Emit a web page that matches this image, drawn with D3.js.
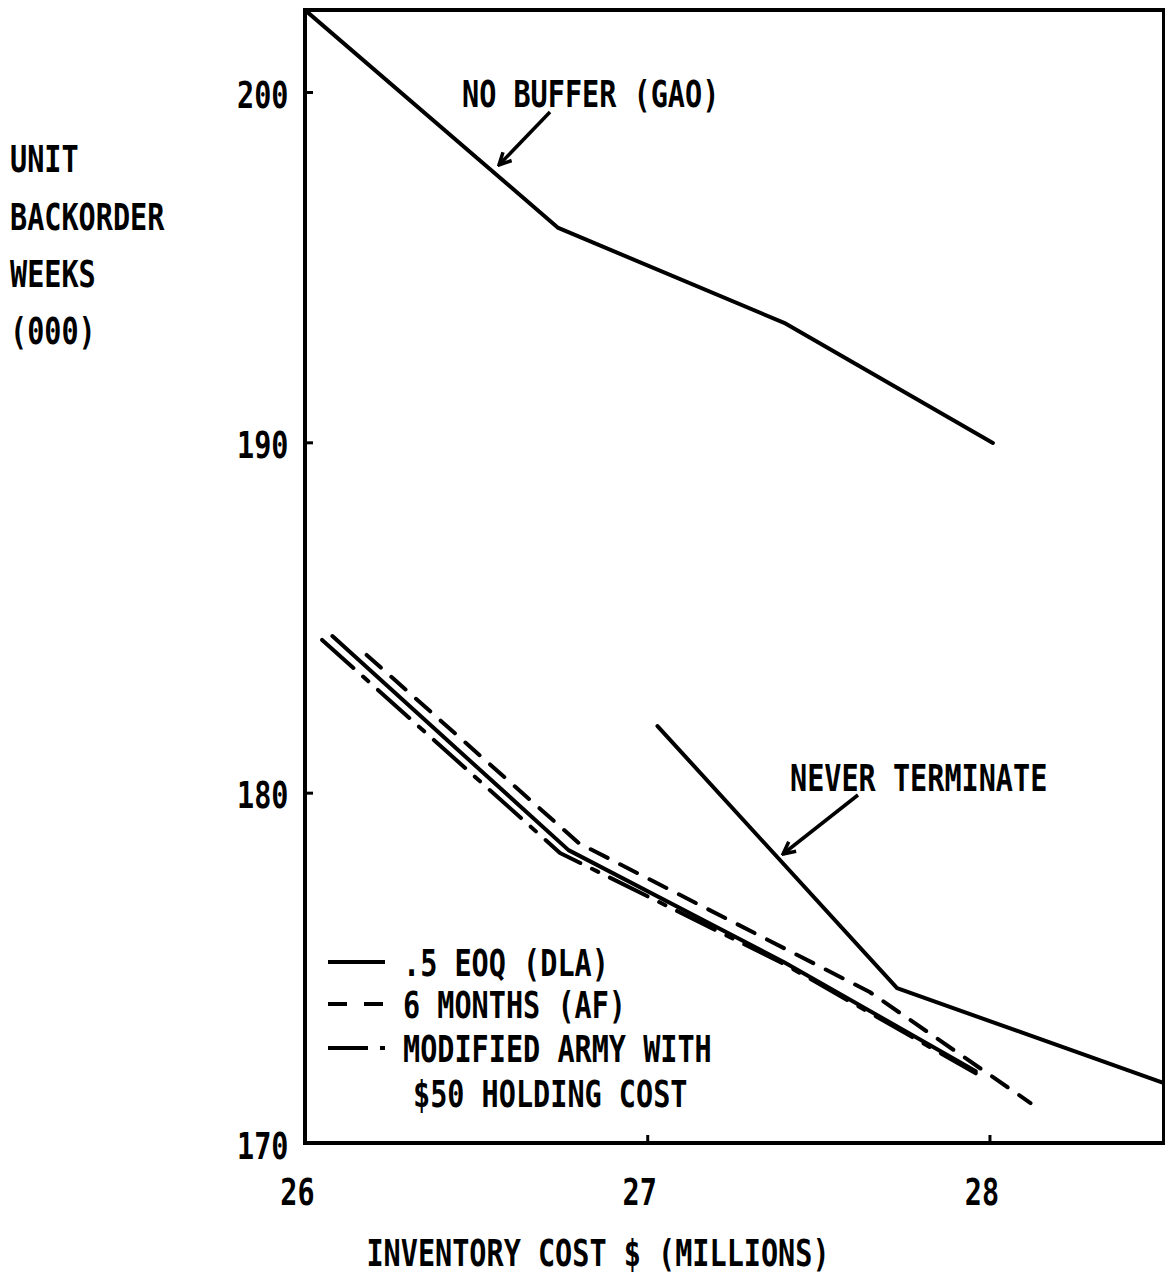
<!DOCTYPE html>
<html>
<head>
<meta charset="utf-8">
<script src="https://cdn.jsdelivr.net/npm/d3@7"></script>
<style>
  body { margin: 0; background: #fff; }
  text { font-family: "DejaVu Sans Mono", monospace; font-weight: bold; font-size: 38px; fill: #000; }
</style>
</head>
<body>
<div id="chart"></div>
<script>
// Tick values
const xTicks = [26, 27, 28];
const yTicks = [170, 180, 190, 200];

// Series (inventory cost $M, backorder weeks 000)
const noBufferX = [26.0, 26.74, 27.40, 28.01];
const noBufferY = [202.34, 196.12, 193.41, 189.98];

const neverTermX = [27.03, 27.73, 28.51];
const neverTermY = [181.90, 174.42, 171.71];

const eoqX = [26.08, 26.77, 27.40, 27.96];
const eoqY = [184.47, 178.36, 175.16, 172.05];

const sixMonthsX = [26.18, 26.80, 27.65, 28.12];
const sixMonthsY = [183.93, 178.56, 174.31, 171.14];

const armyX = [26.05, 26.745, 27.40, 27.96];
const armyY = [184.36, 178.28, 175.11, 171.99];

const legendLabels = [".5 EOQ (DLA)", "6 MONTHS (AF)", "MODIFIED ARMY WITH", "$50 HOLDING COST"];
const yTitle = ["UNIT", "BACKORDER", "WEEKS", "(000)"];
const xTitle = "INVENTORY COST $ (MILLIONS)";

const W = 1165, H = 1280;
const plotL = 305, plotR = 1164, plotT = 10, plotB = 1143;
const SQ = 0.75; // horizontal squeeze for the narrow lettering

const x = d3.scaleLinear().domain([26, 28.51]).range([plotL, plotR]);
const y = d3.scaleLinear().domain([170, 202.34]).range([plotB, plotT]);

const svg = d3.select("#chart").append("svg")
  .attr("width", W)
  .attr("height", H);

const defs = svg.append("defs");
defs.append("clipPath").attr("id", "plotclip")
  .append("rect")
  .attr("x", plotL).attr("y", plotT)
  .attr("width", plotR - plotL).attr("height", plotB - plotT);

defs.append("marker")
  .attr("id", "arrow")
  .attr("markerUnits", "userSpaceOnUse")
  .attr("viewBox", "-14 -8 16 16")
  .attr("markerWidth", 16).attr("markerHeight", 16)
  .attr("orient", "auto")
  .append("path")
  .attr("d", "M-12,-6 L0,0 L-12,6")
  .attr("fill", "none")
  .attr("stroke", "#000")
  .attr("stroke-width", 3.5);

function label(sel, px, py, str, anchor) {
  return sel.append("text")
    .attr("transform", `translate(${px},${py}) scale(${SQ},1)`)
    .attr("text-anchor", anchor || "start")
    .text(str);
}

// Axes
const xAxis = svg.append("g")
  .attr("transform", `translate(0,${plotB})`)
  .call(d3.axisBottom(x).tickValues(xTicks).tickSize(-8).tickSizeOuter(0)
    .tickPadding(35).tickFormat(d3.format("d")));
const yAxis = svg.append("g")
  .attr("transform", `translate(${plotL},0)`)
  .call(d3.axisLeft(y).tickValues(yTicks).tickSize(-8).tickSizeOuter(0)
    .tickPadding(22).tickFormat(d3.format("d")));

[xAxis, yAxis].forEach(a => {
  a.attr("font-family", null).attr("font-size", null);
  a.select(".domain").remove();
  a.selectAll("line").attr("stroke", "#000").attr("stroke-width", 3);
});
xAxis.selectAll("text").attr("transform", `translate(-8,0) scale(${SQ},1)`);
yAxis.selectAll("text").attr("transform", `scale(${SQ},1)`).attr("dy", "0.4em");

// Frame
svg.append("rect")
  .attr("x", plotL).attr("y", plotT)
  .attr("width", plotR - plotL).attr("height", plotB - plotT)
  .attr("fill", "none")
  .attr("stroke", "#000")
  .attr("stroke-width", 4);

// Lines
const line = d3.line().x(d => x(d[0])).y(d => y(d[1]));
const series = [
  { xs: noBufferX, ys: noBufferY, dash: null },
  { xs: neverTermX, ys: neverTermY, dash: null },
  { xs: eoqX, ys: eoqY, dash: null },
  { xs: sixMonthsX, ys: sixMonthsY, dash: "19,14" },
  { xs: armyX, ys: armyY, dash: "42,13,7,13" }
];
const plot = svg.append("g").attr("clip-path", "url(#plotclip)");
plot.selectAll("path.series")
  .data(series)
  .enter()
  .append("path")
  .attr("class", "series")
  .attr("d", s => line(s.xs.map((v, i) => [v, s.ys[i]])))
  .attr("fill", "none")
  .attr("stroke", "#000")
  .attr("stroke-width", 4)
  .attr("stroke-linecap", "round")
  .attr("stroke-linejoin", "round")
  .attr("stroke-dasharray", s => s.dash);

// Annotations with arrows
label(svg, 462, 107, "NO BUFFER (GAO)");
svg.append("line")
  .attr("x1", 550).attr("y1", 112).attr("x2", 499).attr("y2", 165)
  .attr("stroke", "#000").attr("stroke-width", 3.5)
  .attr("marker-end", "url(#arrow)");

label(svg, 790, 791, "NEVER TERMINATE");
svg.append("line")
  .attr("x1", 858).attr("y1", 795).attr("x2", 783).attr("y2", 854)
  .attr("stroke", "#000").attr("stroke-width", 3.5)
  .attr("marker-end", "url(#arrow)");

// Legend
const legendY = [962, 1004, 1048, 1093];
const legendDash = [null, "19,17", "40,12,7,20"];
legendDash.forEach((dash, i) => {
  svg.append("line")
    .attr("x1", 328).attr("x2", 385)
    .attr("y1", legendY[i]).attr("y2", legendY[i])
    .attr("stroke", "#000").attr("stroke-width", 4)
    .attr("stroke-dasharray", dash);
});
legendLabels.forEach((t, i) => label(svg, i < 3 ? 403 : 413, legendY[i] + 14, t));

// Axis titles
yTitle.forEach((t, i) => label(svg, 10, [172, 230, 287, 344][i], t));
label(svg, 598, 1266, xTitle, "middle");
</script>
</body>
</html>
